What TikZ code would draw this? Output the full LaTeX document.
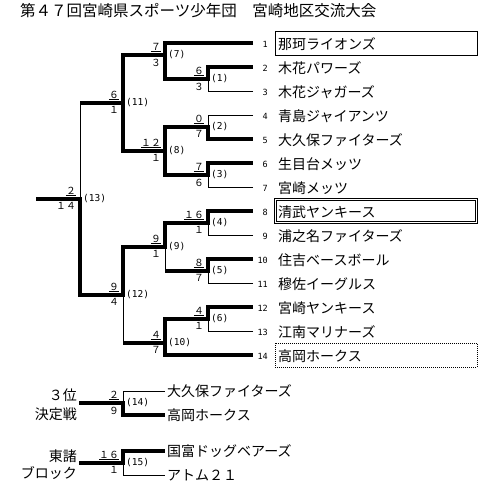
\documentclass[tikz,border=0pt]{standalone}
\usepackage{fontspec}
\setmainfont{Noto Sans CJK JP}
\newfontfamily\monof{DejaVu Sans Mono}
\newcommand{\bkmatch}[4]{%
  \node[scoreup] (#1u) at ([shift={(-4,-4.5)}]#1) {#2};
  \draw[underl] ([yshift=-1.2pt]#1u.south west) -- ([yshift=-1.2pt]#1u.south east);
  \node[scoredn] (#1d) at ([shift={(-4,3.5)}]#1) {#3};
  \node[matchlbl] (#1l) at ([shift={(3,0)}]#1) {#4};
}
\begin{document}
\begin{tikzpicture}[x=1pt,y=-1pt]
\tikzset{
  winline/.style={line width=3.2pt, line join=miter, line cap=butt},
  loseline/.style={line width=1pt},
  underl/.style={line width=0.8pt},
  boxline/.style={line width=0.9pt},
  teamname/.style={anchor=west, inner sep=0pt, font=\fontsize{14}{14}\selectfont},
  teamno/.style={anchor=east, inner sep=0pt, font=\monof\fontsize{8.5}{8.5}\selectfont},
  scoreup/.style={anchor=south east, inner sep=0pt, font=\fontsize{9.8}{9.8}\selectfont},
  scoredn/.style={anchor=north east, inner sep=0pt, font=\fontsize{9.8}{9.8}\selectfont},
  matchlbl/.style={anchor=west, inner sep=0pt, font=\monof\fontsize{9.5}{9.5}\selectfont},
  sidelbl/.style={anchor=east, inner sep=0pt, font=\fontsize{14}{14}\selectfont},
}
\fill[white] (0,0) rectangle (493,488);
\useasboundingbox (0,0) rectangle (493,488);

% title
\node[anchor=west, inner sep=0pt, font=\fontsize{15.5}{15.5}\selectfont] (title) at (20,11)
  {第４７回宮崎県スポーツ少年団　宮崎地区交流大会};

% team line ends
\foreach \i in {1,...,14} {\coordinate (T\i) at (253,{43+24*(\i-1)});}
% junctions
\coordinate (M1) at (208,79);
\coordinate (M2) at (208,127);
\coordinate (M3) at (208,175);
\coordinate (M4) at (208,223);
\coordinate (M5) at (208,271);
\coordinate (M6) at (208,319);
\coordinate (M7) at (165,55);
\coordinate (M8) at (165,151);
\coordinate (M9) at (165,247);
\coordinate (M10) at (165,343);
\coordinate (M11) at (123,103);
\coordinate (M12) at (123,295);
\coordinate (M13) at (80,199);
\coordinate (F) at (36,199);

% thin (losing) lines
\draw[loseline] (T3) -- (T3 -| M1) -- (M1);
\draw[loseline] (T4) -- (T4 -| M2) -- (M2);
\draw[loseline] (T7) -- (T7 -| M3) -- (M3);
\draw[loseline] (T9) -- (T9 -| M4) -- (M4);
\draw[loseline] (T11) -- (T11 -| M5) -- (M5);
\draw[loseline] (T13) -- (T13 -| M6) -- (M6);
\draw[loseline] (M11 -| M13) -- (M13);
\draw[loseline] (M9) -- (M5 -| M9);
\draw[loseline] (M12) -- (M10 -| M12);

% thick (winning) lines
\draw[winline] (T1) -- (T1 -| M7) -- (M7) -- (M7 -| M11) -- (M8 -| M11) -- (M8);
\draw[winline] (M7) -- (M1 -| M7) -- (M1) -- (T2 -| M1) -- (T2);
\draw[winline] (M8) -- (M2 -| M8) -- (M2) -- (T5 -| M2) -- (T5);
\draw[winline] (M8) -- (M3 -| M8) -- (M3) -- (T6 -| M3) -- (T6);
\draw[winline] (M11) -- (M11 -| M13);
\draw[winline] (F) -- (M13) -- (M12 -| M13) -- (M12) -- (M9 -| M12) -- (M9) -- (M4 -| M9) -- (M4) -- (T8 -| M4) -- (T8);
\draw[winline] (M5 -| M9) -- (M5) -- (T10 -| M5) -- (T10);
\draw[winline] (M10 -| M12) -- (M10) -- (M6 -| M10) -- (M6) -- (T12 -| M6) -- (T12);
\draw[winline] (M10) -- (T14 -| M10) -- (T14);

% team names and numbers
\foreach \i/\nm in {1/那珂ライオンズ, 2/木花パワーズ, 3/木花ジャガーズ, 4/青島ジャイアンツ,
  5/大久保ファイターズ, 6/生目台メッツ, 7/宮崎メッツ, 8/清武ヤンキース, 9/浦之名ファイターズ,
  10/住吉ベースボール, 11/穆佐イーグルス, 12/宮崎ヤンキース, 13/江南マリナーズ, 14/高岡ホークス} {
  \node[teamname] (N\i) at ([shift={(25,1)}]T\i) {\nm};
  \node[teamno] (n\i) at ([shift={(15,1)}]T\i) {\i};
}

% highlight boxes
\draw[boxline] ([shift={(22,-11.5)}]T1) rectangle ([shift={(224,12)}]T1);
\draw[boxline] ([shift={(21.5,-12.5)}]T8) rectangle ([shift={(224.5,12.5)}]T8);
\draw[boxline] ([shift={(23.7,-10.3)}]T8) rectangle ([shift={(222.3,10.3)}]T8);
\draw[boxline, dash pattern=on 1pt off 1pt] ([shift={(22,-12)}]T14) rectangle ([shift={(224,12)}]T14);

% lower blocks
\coordinate (L14) at (79,403);
\coordinate (M14) at (123,403);
\coordinate (A1) at (165,391);
\coordinate (A2) at (165,415);
\coordinate (L15) at (79,463);
\coordinate (M15) at (123,463);
\coordinate (B1) at (165,451);
\coordinate (B2) at (165,475);

\draw[loseline] (M14) -- (M14 |- A1) -- (A1);
\draw[winline] (L14) -- (M14) -- (M14 |- A2) -- (A2);
\draw[loseline] (M15) -- (M15 |- B2) -- (B2);
\draw[winline] (L15) -- (M15) -- (M15 |- B1) -- (B1);

\node[teamname] (na1) at ([shift={(2,0)}]A1) {大久保ファイターズ};
\node[teamname] (na2) at ([shift={(2,0)}]A2) {高岡ホークス};
\node[teamname] (nb1) at ([shift={(2,0)}]B1) {国富ドッグベアーズ};
\node[teamname] (nb2) at ([shift={(2,0)}]B2) {アトム２１};

\node[sidelbl] (s3a) at (77,395) {３位};
\node[sidelbl] (s3b) at (77,414) {決定戦};
\node[sidelbl] (s4a) at (77,456) {東諸};
\node[sidelbl] (s4b) at (77,473) {ブロック};

% scores and match numbers
\bkmatch{M1}{６}{３}{(1)}
\bkmatch{M2}{０}{７}{(2)}
\bkmatch{M3}{７}{６}{(3)}
\bkmatch{M4}{１６}{１}{(4)}
\bkmatch{M5}{８}{７}{(5)}
\bkmatch{M6}{４}{１}{(6)}
\bkmatch{M7}{７}{３}{(7)}
\bkmatch{M8}{１２}{１}{(8)}
\bkmatch{M9}{９}{１}{(9)}
\bkmatch{M10}{４}{７}{(10)}
\bkmatch{M11}{６}{１}{(11)}
\bkmatch{M12}{９}{４}{(12)}
\bkmatch{M13}{２}{１４}{(13)}
\bkmatch{M14}{２}{９}{(14)}
\bkmatch{M15}{１６}{１}{(15)}
\end{tikzpicture}
\end{document}
